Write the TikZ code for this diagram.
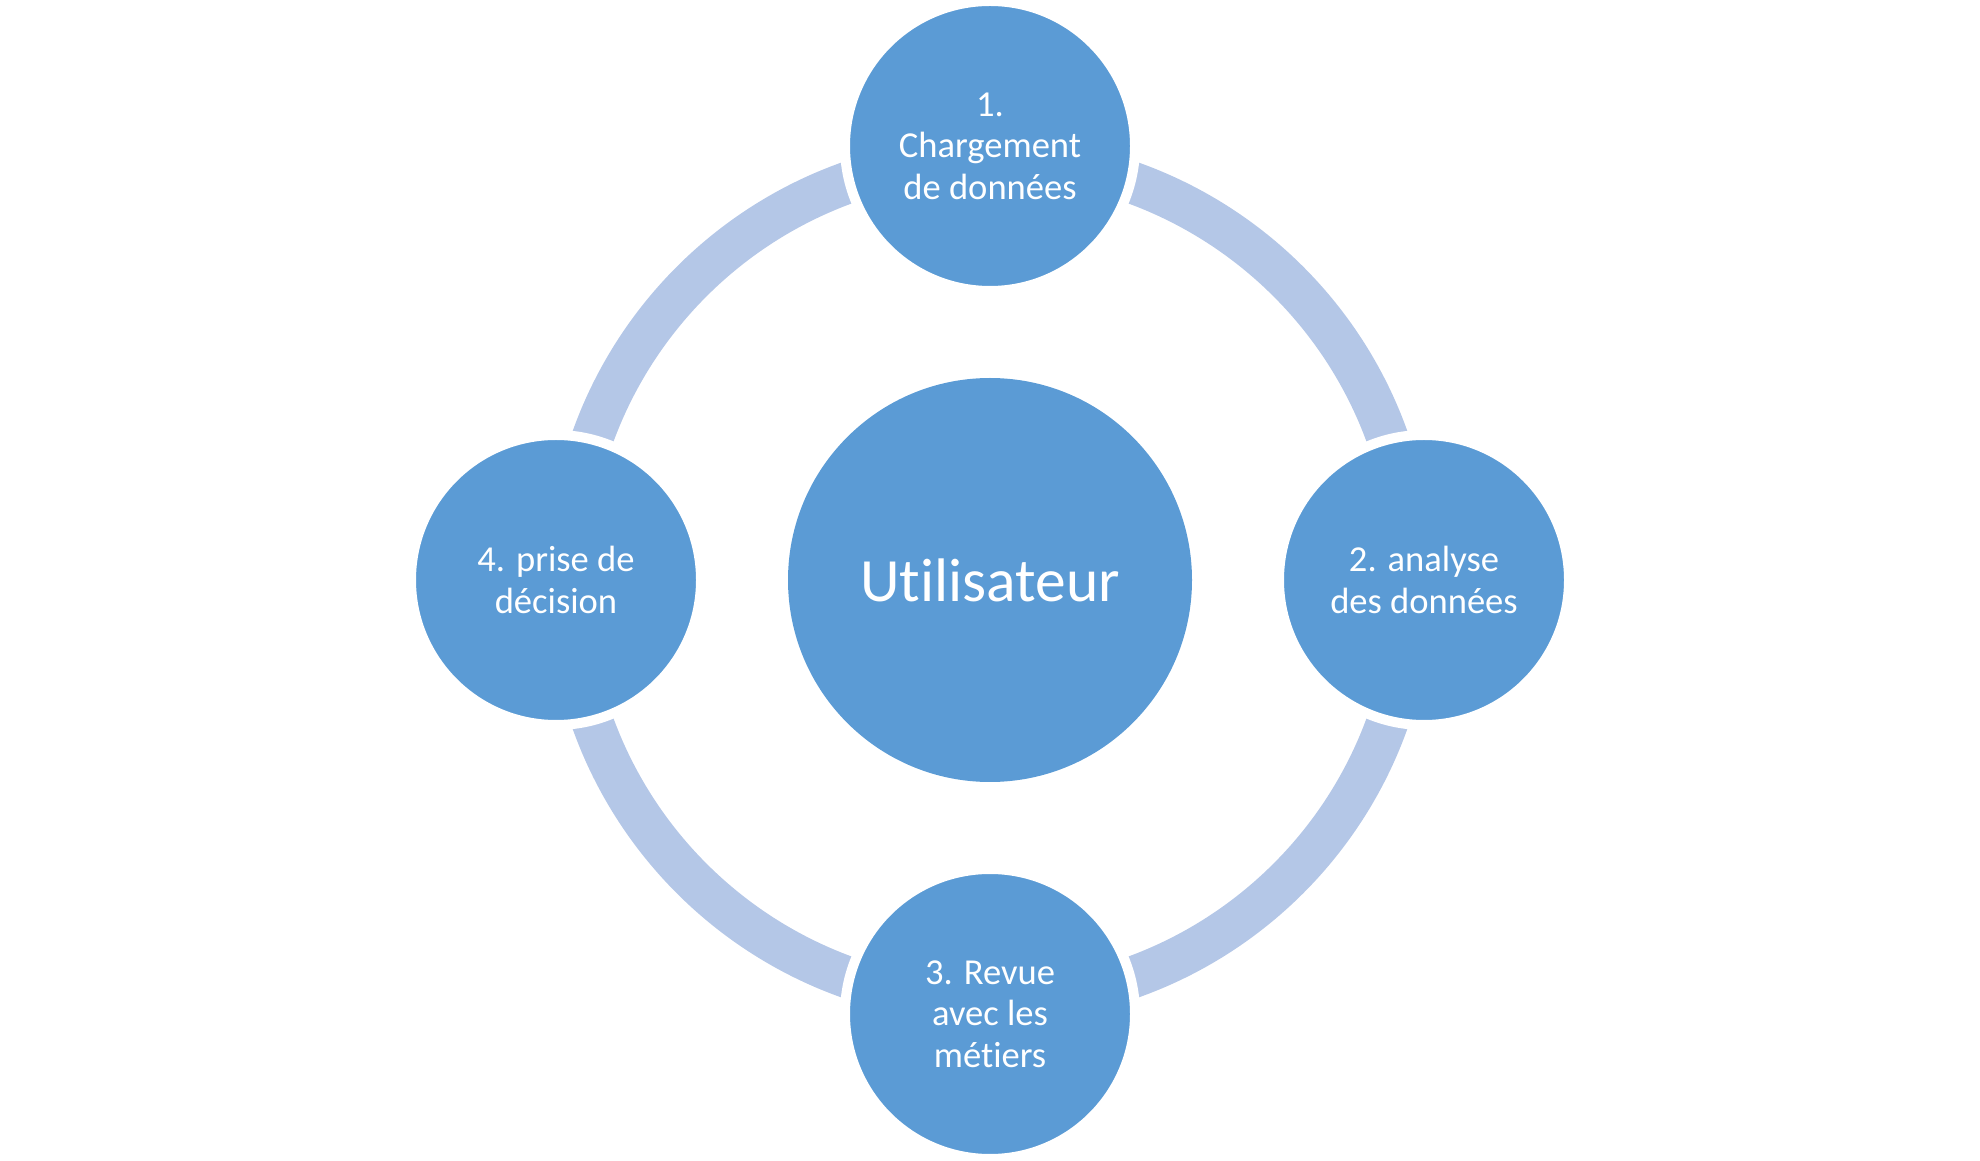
\documentclass[tikz,border=0pt]{standalone}
\usepackage{fontspec}
\setmainfont{Carlito}[Ligatures=NoCommon]
\usepackage{tikz}
\usetikzlibrary{positioning,calc}
\definecolor{stepblue}{RGB}{91,155,213}
\definecolor{ringblue}{RGB}{180,199,231}

\begin{document}
\begin{tikzpicture}[
    satellite/.style={circle, fill=stepblue, draw=white, line width=1mm, minimum size=2.9cm, inner sep=0pt,
        text=white, align=center, font=\fontsize{10.4}{11.8}\selectfont},
    ringarc/.style={draw=ringblue, line width=4.2mm}
]
    \useasboundingbox (0,0) rectangle (19.8,11.6);

    % Centre
    \node[circle, fill=stepblue, minimum size=4.04cm, inner sep=0pt, text=white,
        font=\fontsize{17.5}{21}\selectfont] (user) at (9.9,5.8) {Utilisateur};

    % Ring
    \foreach \a in {0,90,180,270} {
        \draw[ringarc] ($(user.center)+(\a:4.22)$) arc[start angle=\a, end angle=\a+90, radius=4.22];
    }

    % Steps
    \node[satellite] (load) at ($(user)+(90:4.34)$) {1.\\Chargement\\de données};
    \node[satellite] (analysis) at ($(user)+(0:4.34)$) {2. analyse\\des données};
    \node[satellite] (review) at ($(user)+(270:4.34)$) {3. Revue\\avec les\\métiers};
    \node[satellite] (decision) at ($(user)+(180:4.34)$) {4. prise de\\décision};
\end{tikzpicture}
\end{document}
